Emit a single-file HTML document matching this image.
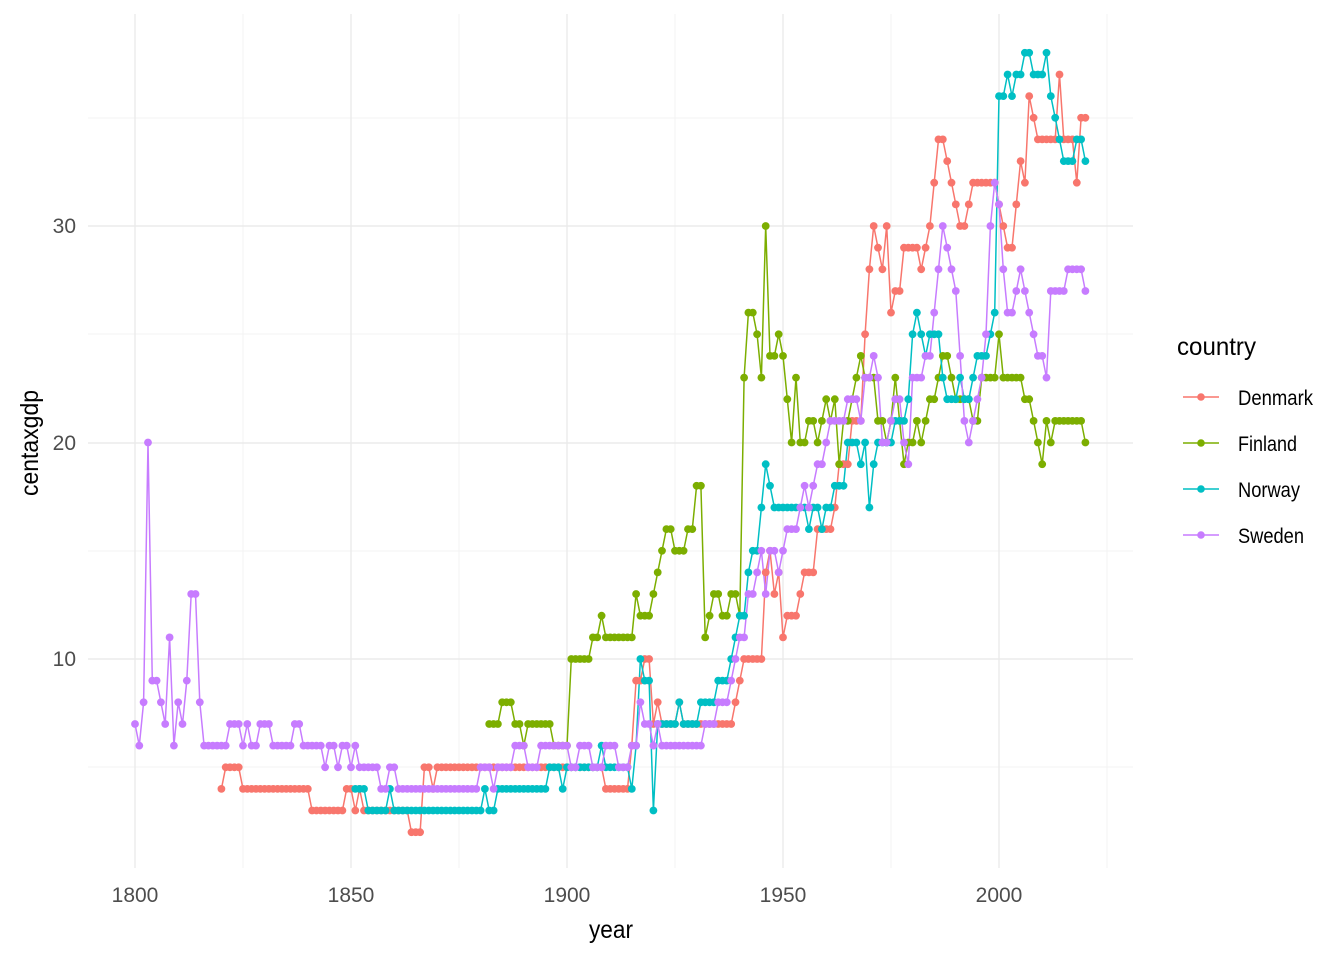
<!DOCTYPE html>
<html><head><meta charset="utf-8"><style>
body{margin:0;background:#fff}
svg text{font-family:"Liberation Sans Narrow","Liberation Sans",sans-serif}
</style></head><body>
<svg id="s" width="1344" height="960" xmlns="http://www.w3.org/2000/svg">
<rect width="1344" height="960" fill="#fff"/>
<g stroke="#f3f3f3" stroke-width="1">
<line x1="243" y1="14" x2="243" y2="868"/><line x1="459" y1="14" x2="459" y2="868"/><line x1="675" y1="14" x2="675" y2="868"/><line x1="891" y1="14" x2="891" y2="868"/><line x1="1107" y1="14" x2="1107" y2="868"/>
<line x1="88" y1="767" x2="1133" y2="767"/><line x1="88" y1="551" x2="1133" y2="551"/><line x1="88" y1="334" x2="1133" y2="334"/><line x1="88" y1="118" x2="1133" y2="118"/>
</g>
<g stroke="#ebebeb" stroke-width="1.4">
<line x1="135" y1="14" x2="135" y2="868"/><line x1="351" y1="14" x2="351" y2="868"/><line x1="567" y1="14" x2="567" y2="868"/><line x1="783" y1="14" x2="783" y2="868"/><line x1="999" y1="14" x2="999" y2="868"/>
<line x1="88" y1="659" x2="1133" y2="659"/><line x1="88" y1="443" x2="1133" y2="443"/><line x1="88" y1="226" x2="1133" y2="226"/>
</g>
<g id="data"></g>
<g fill="#4d4d4d" font-size="21" text-anchor="middle">
<text x="135" y="902">1800</text><text x="351" y="902">1850</text><text x="567" y="902">1900</text><text x="783" y="902">1950</text><text x="999" y="902">2000</text>
</g>
<g fill="#4d4d4d" font-size="21" text-anchor="end">
<text x="76" y="666">10</text><text x="76" y="450">20</text><text x="76" y="233">30</text>
</g>
<text x="589" y="938" font-size="25" textLength="44" lengthAdjust="spacingAndGlyphs">year</text>
<text transform="translate(38,496) rotate(-90)" font-size="25" textLength="106" lengthAdjust="spacingAndGlyphs">centaxgdp</text>
<text x="1177" y="355" font-size="25" textLength="79" lengthAdjust="spacingAndGlyphs">country</text>
<g font-size="21">
<line x1="1183" y1="397" x2="1219" y2="397" stroke="#F8766D" stroke-width="1.5"/><circle cx="1201" cy="397" r="3.8" fill="#F8766D"/><text x="1238" y="405" textLength="75" lengthAdjust="spacingAndGlyphs">Denmark</text>
<line x1="1183" y1="443" x2="1219" y2="443" stroke="#7CAE00" stroke-width="1.5"/><circle cx="1201" cy="443" r="3.8" fill="#7CAE00"/><text x="1238" y="451" textLength="59" lengthAdjust="spacingAndGlyphs">Finland</text>
<line x1="1183" y1="489" x2="1219" y2="489" stroke="#00BFC4" stroke-width="1.5"/><circle cx="1201" cy="489" r="3.8" fill="#00BFC4"/><text x="1238" y="497" textLength="62" lengthAdjust="spacingAndGlyphs">Norway</text>
<line x1="1183" y1="535" x2="1219" y2="535" stroke="#C77CFF" stroke-width="1.5"/><circle cx="1201" cy="535" r="3.8" fill="#C77CFF"/><text x="1238" y="543" textLength="66" lengthAdjust="spacingAndGlyphs">Sweden</text>
</g>
</svg>
<script>
var S={
"#F8766D":"1820:4,1821-1824:5,1825-1840:4,1841-1848:3,1849-1850:4,1851:3,1852:4,1853-1863:3,1864-1866:2,1867-1868:5,1869:4,1870-1908:5,1909-1914:4,1915:6,1916:9,1917:9,1918:10,1919:10,1920:7,1921:8,1922-1925:7,1926:8,1927-1938:7,1939:8,1940:9,1941-1945:10,1946:14,1947:15,1948:13,1949:14,1950:11,1951-1953:12,1954:13,1955-1957:14,1958-1961:16,1962:17,1963-1965:19,1966-1968:21,1969:25,1970:28,1971:30,1972:29,1973:28,1974:30,1975:26,1976-1977:27,1978-1981:29,1982:28,1983:29,1984:30,1985:32,1986-1987:34,1988:33,1989:32,1990:31,1991-1992:30,1993:31,1994-1999:32,2000:31,2001:30,2002-2003:29,2004:31,2005:33,2006:32,2007:36,2008:35,2009-2013:34,2014:37,2015-2017:34,2018:32,2019-2020:35",
"#7CAE00":"1882-1884:7,1885-1887:8,1888-1889:7,1890:6,1891-1896:7,1897-1900:6,1901-1905:10,1906-1907:11,1908:12,1909-1915:11,1916:13,1917-1919:12,1920:13,1921:14,1922:15,1923-1924:16,1925-1927:15,1928-1929:16,1930-1931:18,1932:11,1933:12,1934-1935:13,1936-1937:12,1938-1939:13,1940:12,1941:23,1942-1943:26,1944:25,1945:23,1946:30,1947-1948:24,1949:25,1950:24,1951:22,1952:20,1953:23,1954-1955:20,1956-1957:21,1958:20,1959:21,1960:22,1961:21,1962:22,1963:19,1964-1965:21,1966:22,1967:23,1968:24,1969-1971:23,1972-1973:21,1974:20,1975:21,1976:23,1977:21,1978:19,1979-1980:20,1981:21,1982:20,1983:21,1984-1985:22,1986:23,1987-1988:24,1989:23,1990-1993:22,1994-1995:21,1996-1999:23,2000:25,2001-2005:23,2006-2007:22,2008:21,2009:20,2010:19,2011:21,2012:20,2013-2019:21,2020:20",
"#00BFC4":"1851-1853:4,1854-1858:3,1859:4,1860-1880:3,1881:4,1882-1883:3,1884-1895:4,1896-1898:5,1899:4,1900-1907:5,1908:6,1909-1914:5,1915:4,1916:6,1917:10,1918-1919:9,1920:3,1921-1925:7,1926:8,1927-1930:7,1931-1934:8,1935-1937:9,1938:10,1939:11,1940-1941:12,1942:14,1943-1944:15,1945:17,1946:19,1947:18,1948-1955:17,1956:16,1957-1958:17,1959:16,1960-1961:17,1962-1964:18,1965-1967:20,1968:19,1969:20,1970:17,1971:19,1972-1975:20,1976-1978:21,1979:22,1980:25,1981:26,1982:25,1983:24,1984-1986:25,1987:23,1988-1990:22,1991:23,1992-1993:22,1994:23,1995-1997:24,1998:25,1999:26,2000-2001:36,2002:37,2003:36,2004-2005:37,2006-2007:38,2008-2010:37,2011:38,2012:36,2013:35,2014:34,2015-2017:33,2018-2019:34,2020:33",
"#C77CFF":"1800:7,1801:6,1802:8,1803:20,1804-1805:9,1806:8,1807:7,1808:11,1809:6,1810:8,1811:7,1812:9,1813-1814:13,1815:8,1816-1821:6,1822-1824:7,1825:6,1826:7,1827-1828:6,1829-1831:7,1832-1836:6,1837-1838:7,1839-1843:6,1844:5,1845-1846:6,1847:5,1848-1849:6,1850:5,1851:6,1852-1856:5,1857-1858:4,1859-1860:5,1861-1879:4,1880-1882:5,1883:4,1884-1887:5,1888-1890:6,1891-1893:5,1894-1900:6,1901-1902:5,1903-1905:6,1906-1908:5,1909-1911:6,1912-1914:5,1915-1916:6,1917:8,1918-1919:7,1920:6,1921:7,1922-1931:6,1932-1934:7,1935-1937:8,1938:9,1939:10,1940-1941:11,1942-1943:13,1944:14,1945:15,1946:13,1947-1948:15,1949:14,1950:15,1951-1953:16,1954:17,1955:18,1956:17,1957:18,1958-1959:19,1960:20,1961-1964:21,1965-1967:22,1968:21,1969-1970:23,1971:24,1972:23,1973-1974:20,1975:21,1976-1977:22,1978:20,1979:19,1980-1982:23,1983-1984:24,1985:26,1986:28,1987:30,1988:29,1989:28,1990:27,1991:24,1992:21,1993:20,1994:21,1995:22,1996:23,1997:25,1998:30,1999:32,2000:31,2001:28,2002-2003:26,2004:27,2005:28,2006:27,2007:26,2008:25,2009-2010:24,2011:23,2012-2015:27,2016-2019:28,2020:27"};
function X(y){return 135+(y-1800)*4.32}
function Y(v){return 875.5-v*21.65}
var g=document.getElementById("data"),lines="",dots="";
for(var c in S){var a=[];S[c].split(",").forEach(function(t){var p=t.split(":"),r=p[0].split("-"),v=+p[1],s=+r[0],e=r.length>1?+r[1]:s;for(var y=s;y<=e;y++)a.push([y,v]);});
a.sort(function(p,q){return p[0]-q[0]});
var d=a.map(function(p,i){return (i?"L":"M")+X(p[0]).toFixed(1)+" "+Y(p[1]).toFixed(1)}).join("");
lines+='<path d="'+d+'" fill="none" stroke="'+c+'" stroke-width="1.5"/>';
var dd="";a.forEach(function(p){dd+='<circle cx="'+X(p[0]).toFixed(1)+'" cy="'+Y(p[1]).toFixed(1)+'" r="3.9"/>'});
dots+='<g fill="'+c+'">'+dd+'</g>';}
g.innerHTML=lines+dots;
</script>
</body></html>
